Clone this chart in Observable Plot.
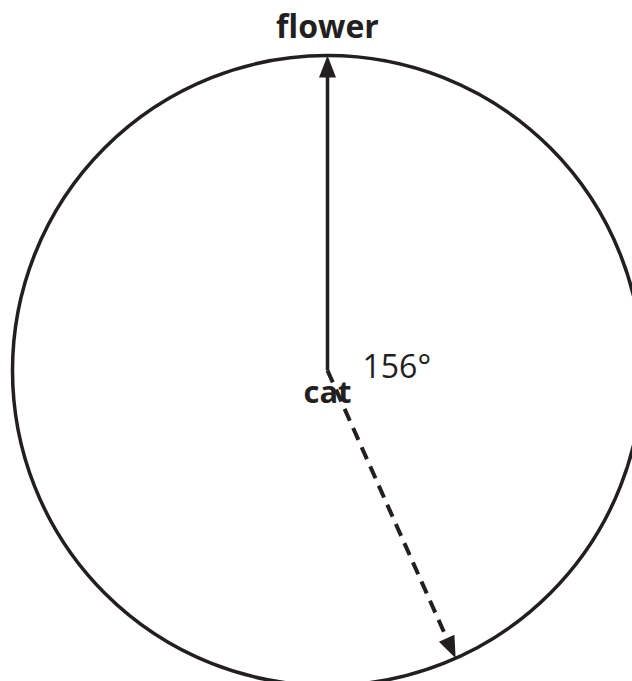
<!DOCTYPE html>
<html>
<head>
<meta charset="utf-8">
<script src="https://cdn.jsdelivr.net/npm/d3@7"></script>
<script src="https://cdn.jsdelivr.net/npm/@observablehq/plot@0.6"></script>
<style>
  html, body { margin: 0; padding: 0; background: #fff; overflow: hidden; }
</style>
</head>
<body>
<div id="chart"></div>
<script>
// Data
const angles = [0, 156];            // direction in degrees, clockwise from north
const arrowStyles = ["solid", "dashed"];
const topLabel = "flower";
const centerLabel = "cat";
const angleLabel = "156°";

const W = 632, H = 681;
const CX = 327, CY = 370, R = 315; // layout: pixel center and radius

const ink = "#231f20";
const arrows = angles.map((a, i) => ({angle: a, style: arrowStyles[i]}));
const rad = a => a * Math.PI / 180;
const headLen = 14 / R; // shaft stops inside the arrowhead

const headSymbol = {
  draw(ctx) {
    ctx.moveTo(0, 0);
    ctx.lineTo(-8.5, 22);
    ctx.lineTo(8.5, 22);
    ctx.closePath();
  }
};

const plot = Plot.plot({
  width: W,
  height: H,
  margin: 0,
  x: {domain: [-CX / R, (W - CX) / R], range: [0, W], axis: null},
  y: {domain: [-(H - CY) / R, CY / R], range: [H, 0], axis: null},
  style: {background: "white", overflow: "hidden"},
  marks: [
    Plot.dot([{x: 0, y: 0}], {x: "x", y: "y", r: R, fill: "none", stroke: ink, strokeWidth: 3.5}),
    Plot.link(arrows.filter(d => d.style === "solid"), {
      x1: 0, y1: 0,
      x2: d => Math.sin(rad(d.angle)) * (1 - headLen),
      y2: d => Math.cos(rad(d.angle)) * (1 - headLen),
      stroke: ink, strokeWidth: 3.5
    }),
    Plot.link(arrows.filter(d => d.style === "dashed"), {
      x1: 0, y1: 0,
      x2: d => Math.sin(rad(d.angle)) * (1 - headLen),
      y2: d => Math.cos(rad(d.angle)) * (1 - headLen),
      stroke: ink, strokeWidth: 4, strokeDasharray: "13,8"
    }),
    Plot.dot(arrows, {
      x: d => Math.sin(rad(d.angle)),
      y: d => Math.cos(rad(d.angle)),
      symbol: headSymbol,
      rotate: d => d.angle,
      fill: ink, stroke: "none"
    }),
    Plot.text([topLabel], {x: 0, y: 1, text: d => d, dy: -18, lineAnchor: "bottom",
      fontFamily: "Open Sans", fontWeight: "bold", fontSize: 32, fill: ink}),
    Plot.text([centerLabel], {x: 0, y: 0, text: d => d, dy: 32, lineAnchor: "bottom",
      fontFamily: "Open Sans", fontWeight: "bold", fontSize: 31, fill: ink}),
    Plot.text([angleLabel], {x: 0, y: 0, text: d => d, dx: 35, dy: 7, lineAnchor: "bottom", textAnchor: "start",
      fontFamily: "Open Sans", fontSize: 32, fill: ink})
  ]
});
document.getElementById("chart").appendChild(plot);
</script>
</body>
</html>
